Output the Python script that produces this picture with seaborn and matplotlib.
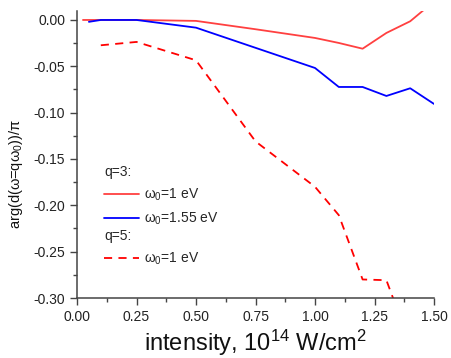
import matplotlib
matplotlib.use("Agg")
import matplotlib.pyplot as plt
import matplotlib.ticker as mticker
import seaborn as sns
import numpy as np

# q=3, w0=1 eV
x_q3_1 = [0.025, 0.25, 0.5, 0.75, 1.0, 1.1, 1.2, 1.3, 1.4, 1.5]
y_q3_1 = [0.0, 0.0, -0.001, -0.010, -0.0194, -0.0248, -0.031, -0.014, -0.0014, 0.020]

# q=3, w0=1.55 eV
x_q3_155 = [0.05, 0.1, 0.25, 0.5, 1.0, 1.1, 1.2, 1.3, 1.4, 1.5]
y_q3_155 = [-0.002, 0.0, 0.0, -0.0083, -0.0518, -0.0723, -0.0723, -0.082, -0.0737, -0.0906]

# q=5, w0=1 eV
x_q5_1 = [0.1, 0.25, 0.5, 0.75, 1.0, 1.1, 1.2, 1.3, 1.4]
y_q5_1 = [-0.0273, -0.0237, -0.0435, -0.131, -0.180, -0.2106, -0.280, -0.2808, -0.35]

sns.set_style("ticks")
plt.rcParams['font.family'] = ['Liberation Sans', 'DejaVu Sans']
plt.rcParams['axes.unicode_minus'] = False
plt.rcParams['mathtext.fontset'] = 'custom'
plt.rcParams['mathtext.rm'] = 'Liberation Sans'
plt.rcParams['mathtext.it'] = 'Liberation Sans'

fig = plt.figure(figsize=(4.51, 3.58), dpi=100)
ax = fig.add_axes([77 / 451, 1 - 298 / 358, 357 / 451, 287.3 / 358])

sns.lineplot(x=x_q3_1, y=y_q3_1, color='#ff4040', lw=1.3, sort=False, ax=ax)
sns.lineplot(x=x_q3_155, y=y_q3_155, color='blue', lw=1.3, sort=False, ax=ax)
sns.lineplot(x=x_q5_1, y=y_q5_1, color='red', lw=1.3, sort=False,
             linestyle=(0, (4.5, 3.5)), ax=ax)

ax.set_xlim(0, 1.5)
ax.set_ylim(-0.30, 0.01)
ax.xaxis.set_major_locator(mticker.MultipleLocator(0.25))
ax.xaxis.set_minor_locator(mticker.MultipleLocator(0.125))
ax.yaxis.set_major_locator(mticker.MultipleLocator(0.05))
ax.yaxis.set_minor_locator(mticker.MultipleLocator(0.025))
ax.xaxis.set_major_formatter(mticker.FormatStrFormatter('%.2f'))
ax.yaxis.set_major_formatter(mticker.FormatStrFormatter('%.2f'))
ax.tick_params(which='major', direction='out', length=5, width=1, color='#444444',
               labelsize=10, labelcolor='#222222')
ax.tick_params(which='minor', direction='out', length=3, width=1, color='#444444')
for s in ['top', 'right']:
    ax.spines[s].set_visible(False)
for s in ['left', 'bottom']:
    ax.spines[s].set_color('#444444')
    ax.spines[s].set_linewidth(1.1)

ax.set_xlabel('intensity, 10$^{14}$ W/cm$^{2}$', fontsize=17, color='#111111', labelpad=3)
ax.set_ylabel('arg(d(ω=qω$_0$))/π', fontsize=10.5, color='#111111')
ax.yaxis.set_label_coords(-0.145, 0.43)

lines = ax.get_lines()
leg_kw = dict(loc='upper left', frameon=False, fontsize=10, title_fontsize=10,
              handlelength=2.5, handletextpad=0.35, borderpad=0, borderaxespad=0,
              labelspacing=0.55, alignment='left')
leg1 = ax.legend([lines[0], lines[1]], ['ω$_0$=1 eV', 'ω$_0$=1.55 eV'],
                 title='q=3:', bbox_to_anchor=(0.0756, 0.462), **leg_kw)
ax.add_artist(leg1)
leg2 = ax.legend([lines[2]], ['ω$_0$=1 eV'],
                 title='q=5:', bbox_to_anchor=(0.0756, 0.24), **leg_kw)

fig.savefig('out.png', dpi=100)
